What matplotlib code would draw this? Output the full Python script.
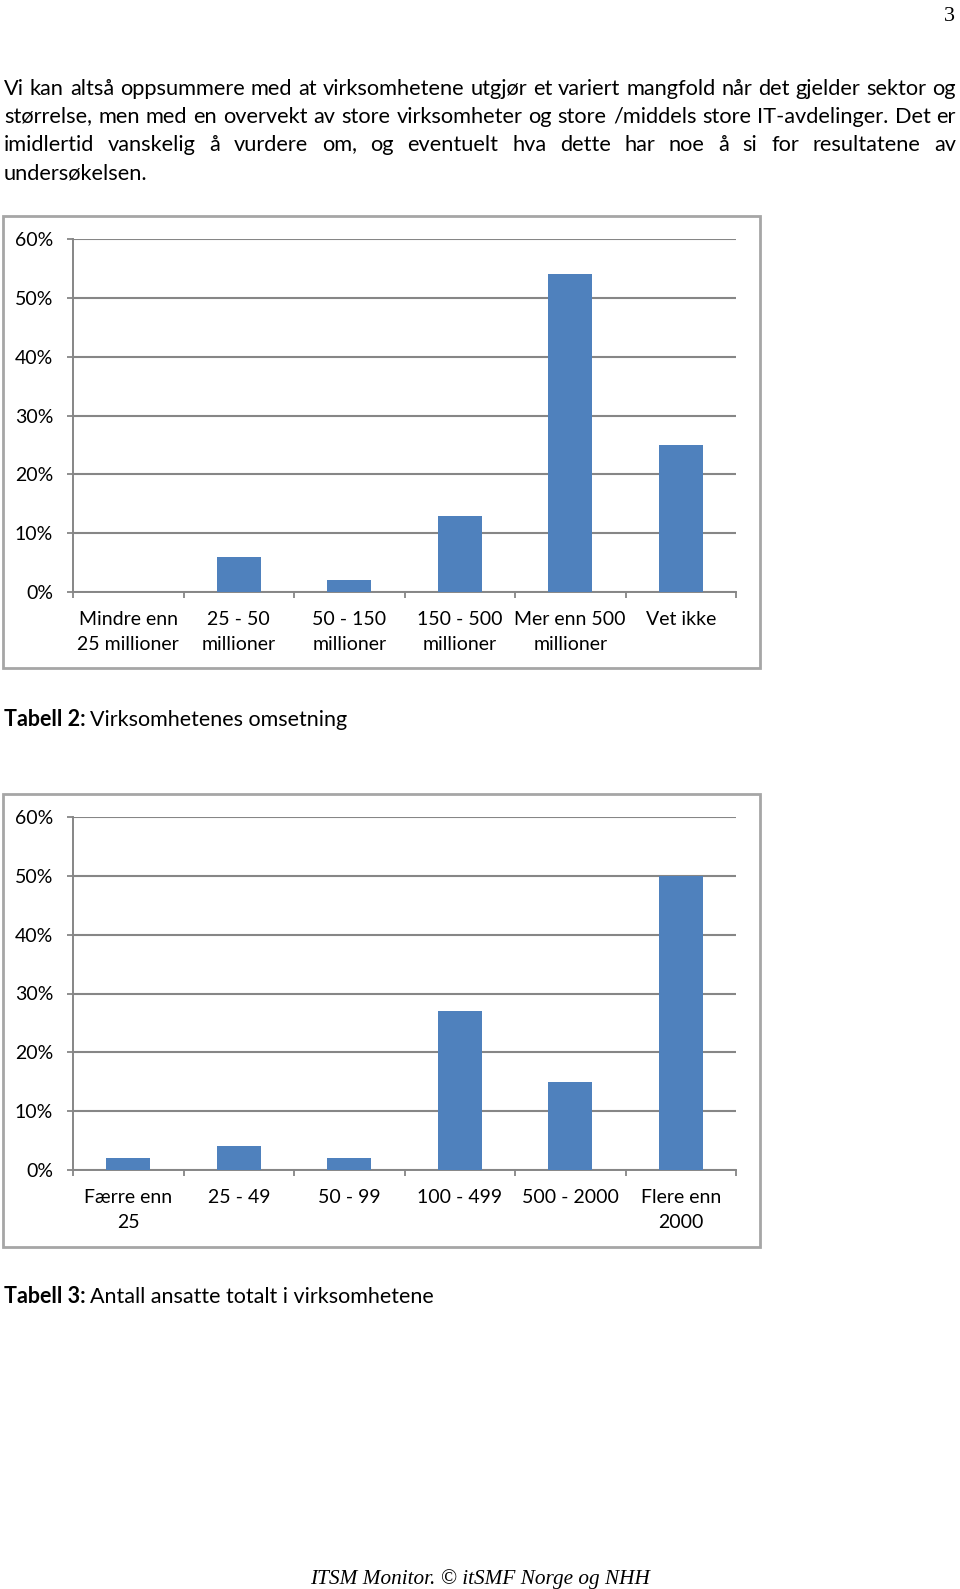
import matplotlib
matplotlib.use("Agg")
import matplotlib.pyplot as plt
from matplotlib.patches import Rectangle
import numpy as np

# data
omsetning_labels = ["Mindre enn\n25 millioner", "25 - 50\nmillioner", "50 - 150\nmillioner",
                    "150 - 500\nmillioner", "Mer enn 500\nmillioner", "Vet ikke"]
omsetning_values = [0, 6, 2, 13, 54, 25]

ansatte_labels = ["Færre enn\n25", "25 - 49", "50 - 99", "100 - 499", "500 - 2000", "Flere enn\n2000"]
ansatte_values = [2, 4, 2, 27, 15, 50]

y_ticks = [0, 10, 20, 30, 40, 50, 60]

paragraph = [
    "Vi kan altså oppsummere med at virksomhetene utgjør et variert mangfold når det gjelder sektor og",
    "størrelse, men med en overvekt av store virksomheter og store /middels store IT-avdelinger. Det er",
    "imidlertid vanskelig å vurdere om, og eventuelt hva dette har noe å si for resultatene av",
    "undersøkelsen.",
]

W, H = 960, 1589
plt.rcParams["font.family"] = ["Lato", "DejaVu Sans"]
BAR = "#4f81bd"
GRID = "#868686"
FRAME = "#a6a6a6"
FS = 15.7
NUDGE = 1 / 128  # keeps Agg's pixel rounding of the baseline the same everywhere

# Agg snaps every text bitmap on its own, so a lone word can land a pixel or two
# off the line. Compare each lone word with the same word inside the whole line.
scratch = plt.figure(figsize=(10, 0.6), dpi=100)
srend = scratch.canvas.get_renderer()


def ink(s):
    t = scratch.text(0.01, 1 - (40 + NUDGE) / 60, s, fontsize=FS, va="baseline")
    scratch.canvas.draw()
    img = 255.0 - np.asarray(scratch.canvas.buffer_rgba())[..., 0]
    ext = t.get_window_extent(srend)
    t.remove()
    return img, ext


fixes = []
for line in paragraph:
    words = line.split()
    line_img, _ = ink(line)
    row = []
    for j, w in enumerate(words):
        alone, ext_w = ink(w)
        _, ext_p = ink(" ".join(words[:j + 1]))
        c1 = int(ext_p.x1) - 1
        c0 = max(int(ext_p.x1 - ext_w.width) + 1, 0)
        p_line = line_img[:, c0:c1].sum(axis=1)
        p_alone = alone[:, int(ext_w.x0) + 1:int(ext_w.x1) - 1].sum(axis=1)
        shifts = list(range(-4, 5))
        err = [np.abs(np.roll(p_alone, s) - p_line).sum() for s in shifts]
        row.append(shifts[int(np.argmin(err))])
    fixes.append(row)
plt.close(scratch)

fig = plt.figure(figsize=(W / 100, H / 100), dpi=100, facecolor="white")
renderer = fig.canvas.get_renderer()


def px(x, y):
    return x / W, 1 - y / H


def put(x, y, s, **kw):
    t = fig.text(*px(x, y), s, **kw)
    return t, t.get_window_extent(renderer).width


# page number
fig.text(*px(955, 21), "3", family="Liberation Serif", fontsize=16, ha="right", va="baseline")

# justified paragraph, one text per word
left, right = 4, 956
for i, line in enumerate(paragraph):
    y = round(95 + i * 28.1)
    words = line.split()
    items = [put(0, y, w, fontsize=FS, va="baseline") for w in words]
    if i < len(paragraph) - 1:
        gap = (right - left - sum(w for _, w in items)) / (len(words) - 1)
    else:
        gap = 5
    x = left
    for (t, w), dy in zip(items, fixes[i]):
        t.set_position(px(x, y + dy + NUDGE))
        x += w + gap


def caption(y, bold, rest):
    t, w = put(4, y, bold, fontsize=15.5, fontweight="bold", va="baseline")
    put(4 + w + 4, y, rest, fontsize=15.5, va="baseline")


def chart(top, bottom, frame_top, frame_bottom, labels, values):
    fig.patches.append(Rectangle(px(3, frame_bottom), 757 / W, (frame_bottom - frame_top) / H,
                                 transform=fig.transFigure, fill=False, edgecolor=FRAME, lw=2))
    ax = fig.add_axes([73 / W, 1 - bottom / H, 663 / W, (bottom - top) / H])
    x = np.arange(len(values))
    ax.bar(x, values, width=0.4, color=BAR, zorder=3)
    ax.set_xlim(-0.5, len(values) - 0.5)
    ax.set_ylim(0, 60)
    ax.set_yticks(y_ticks)
    ax.set_yticklabels([f"{v}%" for v in y_ticks], fontsize=14)
    ax.yaxis.grid(True, color=GRID, lw=1.5, zorder=0)
    ax.set_xticks(x)
    ax.set_xticklabels(labels, fontsize=14, linespacing=1.55)
    ax.set_xticks(np.arange(len(values) + 1) - 0.5, minor=True)
    ax.tick_params(axis="x", which="major", length=0, pad=14)
    ax.tick_params(axis="x", which="minor", length=4.5, color=GRID, width=1.3, direction="out")
    ax.tick_params(axis="y", length=4.3, color=GRID, width=1.3, pad=10)
    for s in ["top", "right"]:
        ax.spines[s].set_visible(False)
    for s in ["left", "bottom"]:
        ax.spines[s].set_color(GRID)
        ax.spines[s].set_linewidth(1.4)
    ax.set_facecolor("none")
    return ax


chart(239, 592, 216, 668, omsetning_labels, omsetning_values)
caption(726, "Tabell 2:", "Virksomhetenes omsetning")

chart(817, 1170, 794, 1247, ansatte_labels, ansatte_values)
caption(1303, "Tabell 3:", "Antall ansatte totalt i virksomhetene")

fig.text(*px(480, 1584), "ITSM Monitor. © itSMF Norge og NHH", family="Liberation Serif",
         style="italic", fontsize=15.3, ha="center", va="baseline")

fig.savefig("out.png", dpi=100, facecolor="white")
